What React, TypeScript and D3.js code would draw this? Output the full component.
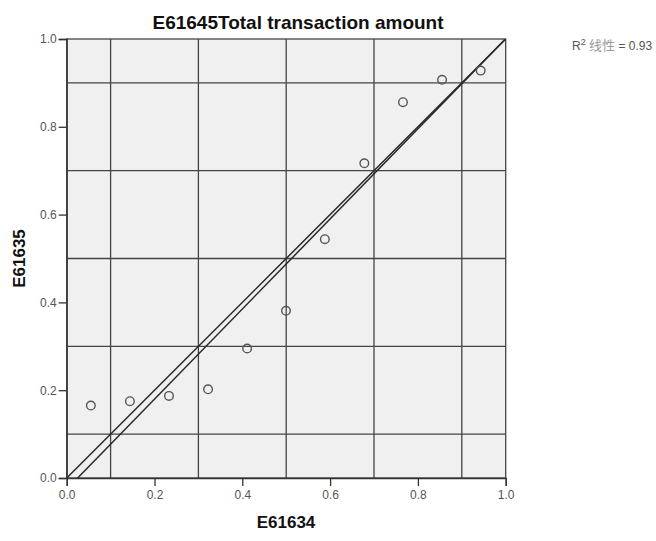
import React, { useEffect, useRef } from "react";
import * as d3 from "d3";

const xValues = [0.055, 0.144, 0.233, 0.322, 0.411, 0.4995, 0.588, 0.678, 0.766, 0.855, 0.943];
const yValues = [0.165, 0.175, 0.187, 0.202, 0.295, 0.381, 0.544, 0.717, 0.856, 0.907, 0.928];
const tickValues = [0, 0.2, 0.4, 0.6, 0.8, 1.0];
const gridValues = [0.1, 0.3, 0.5, 0.7, 0.9];
const titleText = "E61645Total transaction amount";
const xTitle = "E61634";
const yTitle = "E61635";
const r2Label = "0.93";

const W = 656;
const H = 541;
const FONT = "'Liberation Sans', Arial, sans-serif";

export default function App() {
  const ref = useRef<SVGSVGElement>(null);

  useEffect(() => {
    const svg = d3.select(ref.current);
    svg.selectAll("*").remove();

    const left = 66.7, right = 505.7, top = 39, bottom = 478;
    const x = d3.scaleLinear().domain([0, 1]).range([left, right]);
    const y = d3.scaleLinear().domain([0, 1]).range([bottom, top]);

    svg.append("defs").append("clipPath").attr("id", "plotclip")
      .append("rect").attr("x", left).attr("y", top)
      .attr("width", right - left).attr("height", bottom - top);

    svg.append("rect").attr("x", left).attr("y", top)
      .attr("width", right - left).attr("height", bottom - top)
      .attr("fill", "#f0f0f0");

    const g = svg.append("g");
    gridValues.forEach((v) => {
      g.append("line").attr("x1", x(v)).attr("x2", x(v)).attr("y1", top).attr("y2", bottom)
        .attr("stroke", "#444").attr("stroke-width", 1.3);
      g.append("line").attr("x1", left).attr("x2", right).attr("y1", y(v)).attr("y2", y(v))
        .attr("stroke", "#444").attr("stroke-width", 1.3);
    });

    svg.append("rect").attr("x", left).attr("y", top)
      .attr("width", right - left).attr("height", bottom - top)
      .attr("fill", "none").attr("stroke", "#444").attr("stroke-width", 1.3);

    const fmt = d3.format(".1f");
    const xAxis = svg.append("g").attr("transform", `translate(0,${bottom})`)
      .call(d3.axisBottom(x).tickValues(tickValues).tickFormat((d: any) => fmt(d)).tickSize(8).tickPadding(4));
    const yAxis = svg.append("g").attr("transform", `translate(${left},0)`)
      .call(d3.axisLeft(y).tickValues(tickValues).tickFormat((d: any) => fmt(d)).tickSize(8).tickPadding(2));
    [xAxis, yAxis].forEach((a) => {
      a.select(".domain").attr("stroke", "#333").attr("stroke-width", 1.3);
      a.selectAll(".tick line").attr("stroke", "#333").attr("stroke-width", 1.3);
      a.selectAll(".tick text").attr("fill", "#555").attr("font-size", 12).attr("font-family", FONT);
    });

    const n = xValues.length;
    const mx = d3.mean(xValues)!;
    const my = d3.mean(yValues)!;
    let sxy = 0, sxx = 0;
    for (let i = 0; i < n; i++) {
      sxy += (xValues[i] - mx) * (yValues[i] - my);
      sxx += (xValues[i] - mx) ** 2;
    }
    const b = sxy / sxx;
    const a = my - b * mx;
    const lines = svg.append("g").attr("clip-path", "url(#plotclip)");
    const lineGen = d3.line<[number, number]>().x((d) => x(d[0])).y((d) => y(d[1]));
    lines.append("path").attr("d", lineGen([[0, 0], [1, 1]]))
      .attr("stroke", "#2a2a2a").attr("stroke-width", 1.5).attr("fill", "none");
    lines.append("path").attr("d", lineGen([[0, a], [1, a + b]]))
      .attr("stroke", "#2a2a2a").attr("stroke-width", 1.5).attr("fill", "none");

    svg.append("g").selectAll("circle").data(xValues).enter().append("circle")
      .attr("cx", (d) => x(d)).attr("cy", (_d, i) => y(yValues[i])).attr("r", 4.3)
      .attr("fill", "none").attr("stroke", "#555").attr("stroke-width", 1.4);

    svg.append("text").attr("x", 298).attr("y", 28.5).attr("text-anchor", "middle")
      .attr("font-family", FONT).attr("font-weight", "bold").attr("font-size", 19)
      .attr("fill", "#111").text(titleText);
    svg.append("text").attr("x", 286).attr("y", 528).attr("text-anchor", "middle")
      .attr("font-family", FONT).attr("font-weight", "bold").attr("font-size", 17)
      .attr("fill", "#111").text(xTitle);
    svg.append("text").attr("transform", `translate(25,${(top + bottom) / 2}) rotate(-90)`)
      .attr("text-anchor", "middle")
      .attr("font-family", FONT).attr("font-weight", "bold").attr("font-size", 17)
      .attr("fill", "#111").text(yTitle);

    const t = svg.append("text").attr("x", 572).attr("y", 50)
      .attr("font-family", FONT).attr("font-size", 12).attr("fill", "#555");
    t.append("tspan").text("R");
    t.append("tspan").attr("dy", -5).attr("font-size", 9).text("2");
    t.append("tspan").attr("dy", 5).text(" ");
    t.append("tspan").attr("fill", "#999").attr("font-size", 13)
      .attr("font-family", "'Noto Sans CJK SC', sans-serif").text("线性");
    t.append("tspan").text(" = " + r2Label);
  }, []);

  return (
    <svg ref={ref} width={W} height={H}
      style={{ position: "absolute", left: 0, top: 0, background: "#fff" }} />
  );
}
